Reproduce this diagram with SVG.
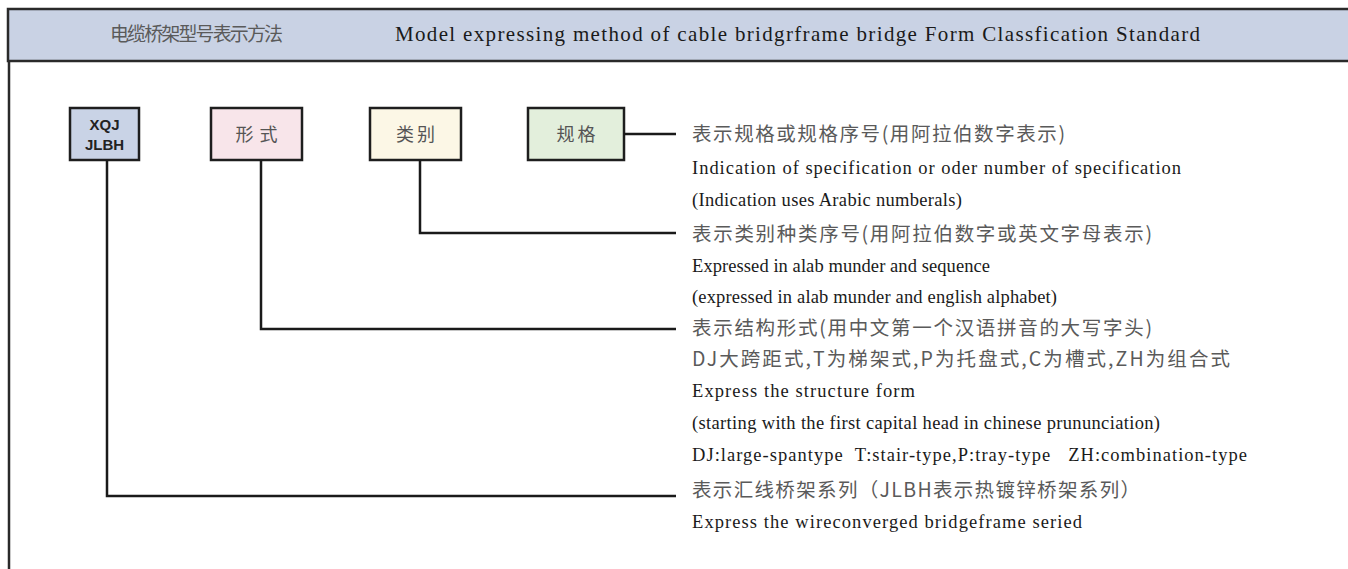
<svg xmlns="http://www.w3.org/2000/svg" width="1348" height="569" viewBox="0 0 1348 569">
<style>
.frame{stroke:#2a2a2a;stroke-width:2.5}
.box{stroke:#1e1e1e;stroke-width:2.5}
.cn{font-family:"Noto Sans CJK SC","Liberation Sans",sans-serif;fill:#5a5a5a;font-size:19.5px}
.en{font-family:"Liberation Serif",serif;fill:#1a1a1a;font-size:18.5px}
.bx{font-family:"Liberation Sans","Noto Sans CJK SC",sans-serif;fill:#222;font-size:15px;text-anchor:middle;font-weight:bold}
.bc{font-family:"Noto Sans CJK SC",sans-serif;fill:#555;font-size:18px;text-anchor:middle}
.conn{fill:none;stroke:#1a1a1a;stroke-width:2.5}
</style>
<rect width="1348" height="569" fill="#ffffff"/>
<g id="header">
<rect x="8" y="9" width="1345" height="52" style="fill:#c9d2e4" class="frame"/>
<line x1="9" y1="61" x2="9" y2="569" stroke="#2a2a2a" stroke-width="2.5"/>
<text x="110" y="41" class="cn" style="font-size:19px" textLength="173">电缆桥架型号表示方法</text>
<text x="395" y="41" class="en" style="font-size:21px" textLength="805">Model expressing method of cable bridgrframe bridge Form Classfication Standard</text>
</g>
<g id="node-xqj">
<rect x="70" y="108" width="69" height="52" style="fill:#c9d3e6" class="box"/>
<text x="104.5" y="130" class="bx">XQJ</text>
<text x="104.5" y="150" class="bx">JLBH</text>
</g>
<g id="node-xingshi">
<rect x="211" y="108" width="91" height="52" style="fill:#f8e5ea" class="box"/>
<text x="259.5" y="141" class="bc" letter-spacing="6">形式</text>
</g>
<g id="node-leibie">
<rect x="370" y="108" width="91" height="52" style="fill:#fcf7e6" class="box"/>
<text x="417" y="141" class="bc" letter-spacing="3">类别</text>
</g>
<g id="node-guige">
<rect x="528" y="108" width="96" height="52" style="fill:#e3efdc" class="box"/>
<text x="577.5" y="141" class="bc" letter-spacing="3">规格</text>
</g>
<g id="connectors">
<polyline class="conn" points="624,134 676,134"/>
<polyline class="conn" points="420,160 420,233 676,233"/>
<polyline class="conn" points="261,160 261,329 676,329"/>
<polyline class="conn" points="107,160 107,496 676,496"/>
</g>
<g id="labels">
<text x="692" y="141" class="cn" textLength="373">表示规格或规格序号(用阿拉伯数字表示)</text>
<text x="692" y="174" class="en" textLength="489">Indication of specification or oder number of specification</text>
<text x="692" y="206" class="en" textLength="270">(Indication uses Arabic numberals)</text>
<text x="692" y="241" class="cn" textLength="460">表示类别种类序号(用阿拉伯数字或英文字母表示)</text>
<text x="692" y="272" class="en" textLength="298">Expressed in alab munder and sequence</text>
<text x="692" y="303" class="en" textLength="365">(expressed in alab munder and english alphabet)</text>
<text x="692" y="335" class="cn" textLength="460">表示结构形式(用中文第一个汉语拼音的大写字头)</text>
<text x="692" y="366" class="cn" textLength="538">DJ大跨距式,T为梯架式,P为托盘式,C为槽式,ZH为组合式</text>
<text x="692" y="397" class="en" textLength="223">Express the structure form</text>
<text x="692" y="429" class="en" textLength="468">(starting with the first capital head in chinese prununciation)</text>
<text x="692" y="461" class="en" textLength="555" xml:space="preserve">DJ:large-spantype  T:stair-type,P:tray-type   ZH:combination-type</text>
<text x="692" y="497" class="cn" textLength="448">表示汇线桥架系列（JLBH表示热镀锌桥架系列）</text>
<text x="692" y="528" class="en" textLength="390">Express the wireconverged bridgeframe seried</text>
</g>
</svg>
